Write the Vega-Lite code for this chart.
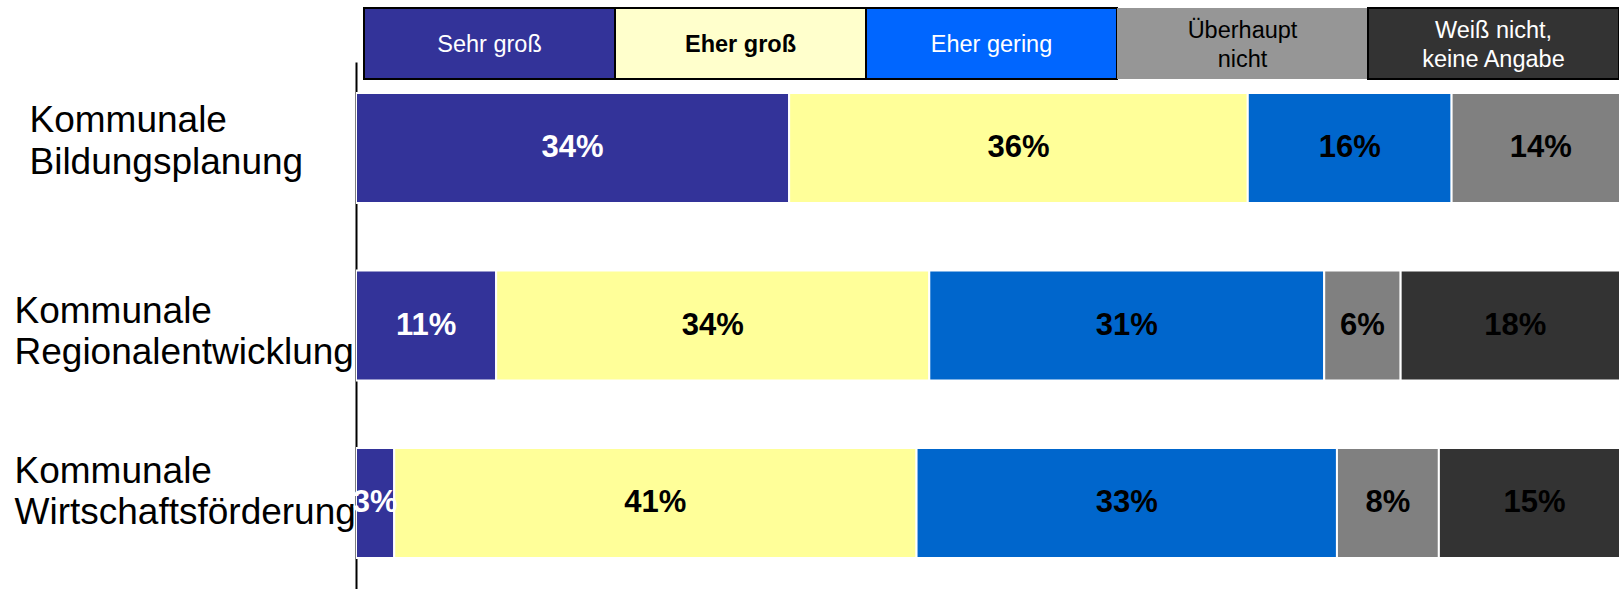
{
  "$schema": "https://vega.github.io/schema/vega-lite/v6.json",
  "autosize": "none",
  "width": 1263,
  "height": 527,
  "padding": {"left": 356, "top": 62, "right": 0, "bottom": 0},
  "background": "white",
  "config": {"view": {"stroke": null}, "font": "Liberation Sans"},
  "resolve": {"scale": {"color": "independent", "x": "independent", "y": "independent"}},
  "datasets": {
    "legend": [
      {"cat": "Sehr groß", "label": "Sehr groß"},
      {"cat": "Eher groß", "label": "Eher groß"},
      {"cat": "Eher gering", "label": "Eher gering"},
      {"cat": "Überhaupt nicht", "label": "Überhaupt\nnicht"},
      {"cat": "Weiß nicht, keine Angabe", "label": "Weiß nicht,\nkeine Angabe"}
    ],
    "main": [
      {"row": "Kommunale Bildungsplanung", "cat": "Sehr groß", "pct": 34},
      {"row": "Kommunale Bildungsplanung", "cat": "Eher groß", "pct": 36},
      {"row": "Kommunale Bildungsplanung", "cat": "Eher gering", "pct": 16},
      {"row": "Kommunale Bildungsplanung", "cat": "Überhaupt nicht", "pct": 14},
      {"row": "Kommunale Regionalentwicklung", "cat": "Sehr groß", "pct": 11},
      {"row": "Kommunale Regionalentwicklung", "cat": "Eher groß", "pct": 34},
      {"row": "Kommunale Regionalentwicklung", "cat": "Eher gering", "pct": 31},
      {"row": "Kommunale Regionalentwicklung", "cat": "Überhaupt nicht", "pct": 6},
      {"row": "Kommunale Regionalentwicklung", "cat": "Weiß nicht, keine Angabe", "pct": 18},
      {"row": "Kommunale Wirtschaftsförderung", "cat": "Sehr groß", "pct": 3},
      {"row": "Kommunale Wirtschaftsförderung", "cat": "Eher groß", "pct": 41},
      {"row": "Kommunale Wirtschaftsförderung", "cat": "Eher gering", "pct": 33},
      {"row": "Kommunale Wirtschaftsförderung", "cat": "Überhaupt nicht", "pct": 8},
      {"row": "Kommunale Wirtschaftsförderung", "cat": "Weiß nicht, keine Angabe", "pct": 15}
    ]
  },
  "layer": [
    {
      "data": {"name": "main"},
      "transform": [
        {"calculate": "indexof(['Sehr groß','Eher groß','Eher gering','Überhaupt nicht','Weiß nicht, keine Angabe'], datum.cat)", "as": "o"},
        {"stack": "pct", "groupby": ["row"], "sort": [{"field": "o", "order": "ascending"}], "as": ["x0", "x1"]},
        {"calculate": "(datum.x0 + datum.x1) / 2", "as": "xm"},
        {"calculate": "datum.pct + '%'", "as": "lbl"}
      ],
      "encoding": {
        "y": {
          "field": "row",
          "type": "nominal",
          "sort": ["Kommunale Bildungsplanung", "Kommunale Regionalentwicklung", "Kommunale Wirtschaftsförderung"],
          "scale": {"paddingInner": 0.38, "paddingOuter": 0.175},
          "axis": {
            "title": null,
            "domain": true,
            "domainColor": "black",
            "domainWidth": 2,
            "ticks": false,
            "tickSize": 0,
            "labelAlign": "left",
            "labelPadding": {"condition": {"test": "datum.value === 'Kommunale Bildungsplanung'", "value": 327}, "value": 342},
            "labelOffset": {"condition": [
              {"test": "datum.value === 'Kommunale Bildungsplanung'", "value": -27},
              {"test": "datum.value === 'Kommunale Regionalentwicklung'", "value": -14}
            ], "value": -31},
            "labelFont": "Liberation Sans",
            "labelFontSize": 37,
            "labelColor": "black",
            "labelLineHeight": 41.5,
            "labelLimit": 0,
            "labelOverlap": false,
            "labelExpr": "split(datum.value, ' ')"
          }
        }
      },
      "layer": [
        {
          "mark": {"type": "bar", "stroke": "white", "strokeWidth": 2, "clip": true},
          "encoding": {
            "x": {"field": "x0", "type": "quantitative", "scale": {"domain": [0, 99.14], "nice": false, "zero": true}, "axis": null},
            "x2": {"field": "x1"},
            "color": {
              "field": "cat",
              "type": "nominal",
              "scale": {
                "domain": ["Sehr groß", "Eher groß", "Eher gering", "Überhaupt nicht", "Weiß nicht, keine Angabe"],
                "range": ["#333399", "#FFFF99", "#0066CC", "#808080", "#333333"]
              },
              "legend": null
            }
          }
        },
        {
          "mark": {"type": "text", "fontSize": 31, "fontWeight": "bold", "font": "Liberation Sans"},
          "encoding": {
            "x": {"field": "xm", "type": "quantitative"},
            "text": {"field": "lbl"},
            "color": {"condition": {"test": "datum.cat === 'Sehr groß'", "value": "white"}, "value": "black"}
          }
        }
      ]
    },
    {
      "data": {"name": "legend"},
      "encoding": {
        "x": {
          "field": "cat",
          "type": "nominal",
          "sort": ["Sehr groß", "Eher groß", "Eher gering", "Überhaupt nicht", "Weiß nicht, keine Angabe"],
          "scale": {"paddingInner": 0, "paddingOuter": 0, "range": [8, 1263]},
          "axis": null
        },
        "y": {
          "datum": "Legende",
          "type": "nominal",
          "scale": {"paddingInner": 0, "paddingOuter": 0, "range": [-54, 17]},
          "axis": null
        }
      },
      "layer": [
        {
          "mark": {"type": "bar", "stroke": "black", "strokeWidth": 2},
          "encoding": {
            "fill": {
              "field": "cat",
              "type": "nominal",
              "scale": {
                "domain": ["Sehr groß", "Eher groß", "Eher gering", "Überhaupt nicht", "Weiß nicht, keine Angabe"],
                "range": ["#333399", "#FFFFCC", "#0066FF", "#969696", "#333333"]
              },
              "legend": null
            },
            "strokeOpacity": {"condition": {"test": "datum.cat === 'Überhaupt nicht'", "value": 0}, "value": 1}
          }
        },
        {
          "transform": [{"filter": "datum.cat === 'Sehr groß' || datum.cat === 'Eher gering'"}],
          "mark": {"type": "text", "fontSize": 23.5, "color": "white", "dy": 1},
          "encoding": {"text": {"field": "label"}}
        },
        {
          "transform": [{"filter": "datum.cat === 'Eher groß'"}],
          "mark": {"type": "text", "fontSize": 23.5, "fontWeight": "bold", "color": "black", "dy": 1},
          "encoding": {"text": {"field": "label"}}
        },
        {
          "transform": [{"filter": "datum.cat === 'Überhaupt nicht' || datum.cat === 'Weiß nicht, keine Angabe'"}],
          "mark": {"type": "text", "fontSize": 23.5, "lineBreak": "\n", "lineHeight": 29.4, "dy": -13},
          "encoding": {
            "text": {"field": "label"},
            "color": {"condition": {"test": "datum.cat === 'Überhaupt nicht'", "value": "black"}, "value": "white"}
          }
        }
      ]
    }
  ]
}
